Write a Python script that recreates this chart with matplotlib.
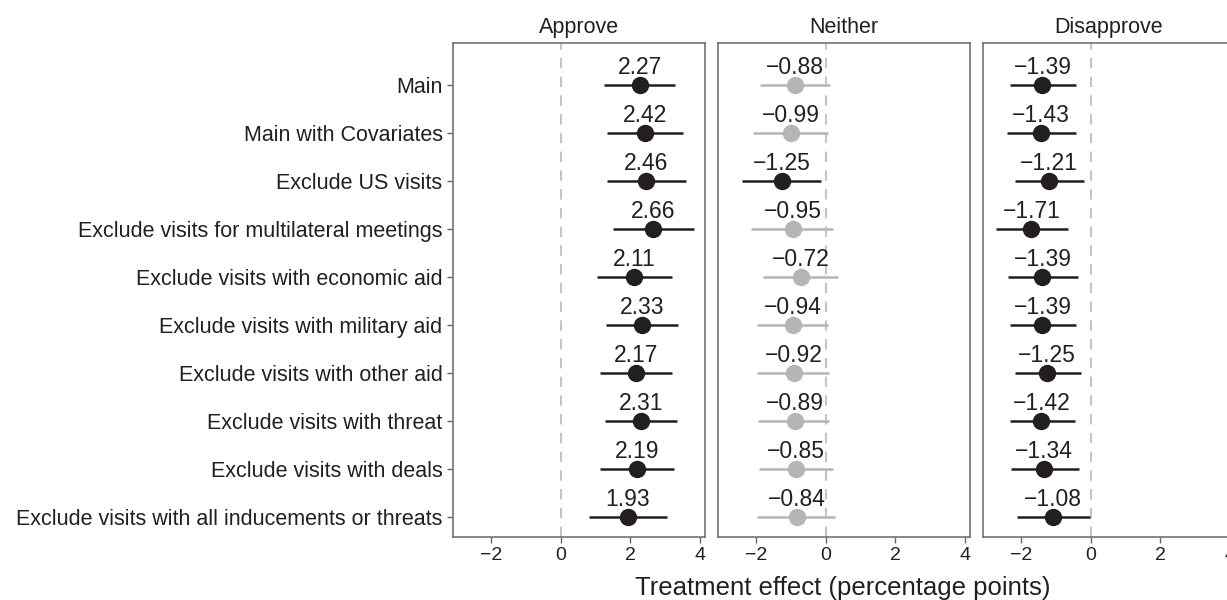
import matplotlib
matplotlib.use("Agg")
import matplotlib.pyplot as plt

plt.rcParams["font.family"] = ["Liberation Sans", "DejaVu Sans"]

MODELS = [
    "Main",
    "Main with Covariates",
    "Exclude US visits",
    "Exclude visits for multilateral meetings",
    "Exclude visits with economic aid",
    "Exclude visits with military aid",
    "Exclude visits with other aid",
    "Exclude visits with threat",
    "Exclude visits with deals",
    "Exclude visits with all inducements or threats",
]

PANELS = ["Approve", "Neither", "Disapprove"]

approve_est = [2.27, 2.42, 2.46, 2.66, 2.11, 2.33, 2.17, 2.31, 2.19, 1.93]
approve_lo = [1.24, 1.33, 1.33, 1.50, 1.04, 1.30, 1.13, 1.27, 1.13, 0.81]
approve_hi = [3.29, 3.52, 3.60, 3.83, 3.20, 3.37, 3.20, 3.34, 3.26, 3.05]

neither_est = [-0.88, -0.99, -1.25, -0.95, -0.72, -0.94, -0.92, -0.89, -0.85, -0.84]
neither_lo = [-1.88, -2.08, -2.40, -2.14, -1.80, -1.97, -1.97, -1.94, -1.91, -1.97]
neither_hi = [0.12, 0.06, -0.14, 0.20, 0.35, 0.06, 0.09, 0.09, 0.20, 0.26]

disapprove_est = [-1.39, -1.43, -1.21, -1.71, -1.39, -1.39, -1.25, -1.42, -1.34, -1.08]
disapprove_lo = [-2.31, -2.40, -2.17, -2.74, -2.37, -2.31, -2.17, -2.31, -2.29, -2.11]
disapprove_hi = [-0.43, -0.43, -0.20, -0.66, -0.37, -0.43, -0.29, -0.46, -0.35, -0.03]

PANEL_DATA = [
    (approve_est, approve_lo, approve_hi),
    (neither_est, neither_lo, neither_hi),
    (disapprove_est, disapprove_lo, disapprove_hi),
]

SIG_COLOR = "#231f20"
NS_COLOR = "#b5b5b5"
FRAME_COLOR = "#666666"

W, H = 1227, 600
fig = plt.figure(figsize=(W / 100, H / 100), dpi=100)

# panel geometry in pixels (third panel runs past the right edge, as in the source)
lefts = [453, 718, 983]
panel_w = 252
top, bottom = 43, 537

n = len(MODELS)
for k, (name, (est, lo, hi)) in enumerate(zip(PANELS, PANEL_DATA)):
    ax = fig.add_axes([lefts[k] / W, 1 - bottom / H, panel_w / W, (bottom - top) / H])
    ax.axvline(0, color="#c4c4c4", lw=1.5, ls=(0, (5, 4)), zorder=1)
    for i in range(n):
        sig = hi[i] < 0 or lo[i] > 0
        c = SIG_COLOR if sig else NS_COLOR
        ax.plot([lo[i], hi[i]], [i, i], color=c, lw=1.8, solid_capstyle="butt", zorder=2)
        ax.plot(est[i], i, "o", color=c, ms=11.5, zorder=3)
        ax.annotate(f"{est[i]:.2f}".replace("-", "\u2212"), (est[i], i),
                    xytext=(0, 8), textcoords="offset points",
                    ha="center", va="baseline", fontsize=16.5, color=SIG_COLOR)
    ax.set_xlim(-3.1, 4.15)
    ax.set_ylim(n - 1 + 0.42, -0.875)
    ax.set_xticks([-2, 0, 2, 4])
    ax.set_xticklabels(["\u22122", "0", "2", "4"])
    ax.tick_params(axis="x", direction="out", length=4.5, width=1, color=FRAME_COLOR,
                   labelsize=14, labelcolor=SIG_COLOR, pad=3)
    ax.set_yticks(range(n))
    if k == 0:
        ax.set_yticklabels(MODELS)
        ax.tick_params(axis="y", direction="out", length=4.5, width=1, color=FRAME_COLOR,
                       labelsize=15.5, labelcolor=SIG_COLOR, pad=3)
    else:
        ax.set_yticklabels([])
        ax.tick_params(axis="y", length=0)
    for s in ax.spines.values():
        s.set_color(FRAME_COLOR)
        s.set_linewidth(1.1)
    ax.set_title(name, fontsize=15.5, color=SIG_COLOR, pad=7)

fig.text(843 / W, 1 - 595 / H, "Treatment effect (percentage points)",
         ha="center", va="baseline", fontsize=18.5, color=SIG_COLOR)

fig.savefig("out.png", dpi=100)
